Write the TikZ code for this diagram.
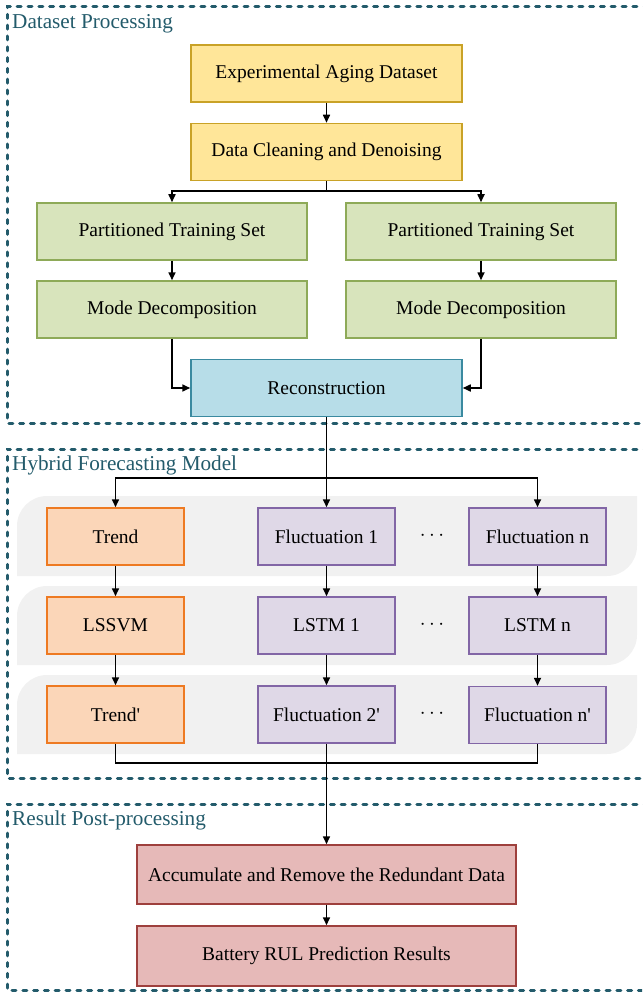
\documentclass[tikz,border=0pt]{standalone}
\usepackage{fontspec}
\setmainfont{Liberation Serif}
\usetikzlibrary{arrows.meta}
\definecolor{frameteal}{HTML}{235B6B}
\definecolor{labelteal}{HTML}{235B6B}
\definecolor{yfill}{HTML}{FFE699}
\definecolor{ydraw}{HTML}{C9A227}
\definecolor{gfill}{HTML}{D8E4BC}
\definecolor{gdraw}{HTML}{8EAA58}
\definecolor{bfill}{HTML}{B7DDE8}
\definecolor{bdraw}{HTML}{3A8AA0}
\definecolor{ofill}{HTML}{FBD6B8}
\definecolor{odraw}{HTML}{EE7A22}
\definecolor{pfill}{HTML}{DFD8E7}
\definecolor{pdraw}{HTML}{8266A6}
\definecolor{rfill}{HTML}{E6B9B8}
\definecolor{rdraw}{HTML}{9E403D}
\definecolor{bandgray}{HTML}{F1F1F1}
\tikzset{
  box/.style={draw, line width=1.5pt, minimum height=57pt, inner sep=0pt, font=\fontsize{19.5}{21}\selectfont, text=black},
  ybox/.style={box, fill=yfill, draw=ydraw, minimum width=271pt},
  gbox/.style={box, fill=gfill, draw=gdraw, minimum width=270pt},
  bbox/.style={box, fill=bfill, draw=bdraw, minimum width=271pt},
  obox/.style={box, fill=ofill, draw=odraw, minimum width=137pt},
  pbox/.style={box, fill=pfill, draw=pdraw, minimum width=137pt},
  rbox/.style={box, fill=rfill, draw=rdraw, minimum width=379pt, minimum height=59pt},
  conn/.style={line width=1.6pt, draw=black},
  arr/.style={conn, -{Triangle[length=8pt,width=7pt]}},
  frame/.style={draw=frameteal, line width=3pt, line cap=round, dash pattern=on 4pt off 6.8pt},
  grouplabel/.style={anchor=west, inner sep=0pt, text=labelteal, font=\fontsize{21.2}{23}\selectfont},
  dotsnode/.style={inner sep=0pt, font=\fontsize{20}{21}\selectfont},
  band/.style={fill=bandgray, draw=none}
}
\begin{document}
\begin{tikzpicture}[x=1pt,y=-1pt]
\useasboundingbox (0,0) rectangle (642,992);
\clip (0,0) rectangle (642,992);
% gray bands
\foreach \t/\b in {496/576, 586/665, 675/754}{
  \fill[band] (17,\b) -- (17,\t+30) arc[start angle=180,end angle=90,radius=30pt]
     -- (637,\t) -- (637,\b-30) arc[start angle=0,end angle=-90,radius=30pt] -- cycle;
}
% frames
\draw[frame] (680,7) -- (7,7) -- (7,423) -- (680,423);
\draw[frame] (680,449) -- (7,449) -- (7,778) -- (680,778);
\draw[frame] (680,804) -- (7,804) -- (7,990) -- (680,990);
% group labels
\node[grouplabel] (lab1) at (12,23.5) {Dataset Processing};
\node[grouplabel] (lab2) at (12,465.5) {Hybrid Forecasting Model};
\node[grouplabel] (lab3) at (12,820.5) {Result Post-processing};
% dataset processing
\node[ybox] (exp) at (326.5,73.5) {Experimental Aging Dataset};
\node[ybox] (clean) at (326.5,152) {Data Cleaning and Denoising};
\node[gbox] (ptl) at (172,231.5) {Partitioned Training Set};
\node[gbox] (ptr) at (481,231.5) {Partitioned Training Set};
\node[gbox] (mdl) at (172,309.5) {Mode Decomposition};
\node[gbox] (mdr) at (481,309.5) {Mode Decomposition};
\node[bbox] (rec) at (326.5,388) {Reconstruction};
% hybrid
\node[obox] (trend) at (115.5,536.5) {Trend};
\node[pbox] (f1) at (326.5,536.5) {Fluctuation 1};
\node[pbox] (fn) at (537.5,536.5) {Fluctuation n};
\node[obox] (lssvm) at (115.5,625.5) {LSSVM};
\node[pbox] (lstm1) at (326.5,625.5) {LSTM 1};
\node[pbox] (lstmn) at (537.5,625.5) {LSTM n};
\node[obox] (trendp) at (115.5,714.5) {Trend\textquotesingle};
\node[pbox] (f2p) at (326.5,714.5) {Fluctuation 2\textquotesingle};
\node[pbox] (fnp) at (537.5,715) {Fluctuation n\textquotesingle};
\node[dotsnode] (d1) at (432,536) {$\cdots$};
\node[dotsnode] (d2) at (432,625) {$\cdots$};
\node[dotsnode] (d3) at (432,714) {$\cdots$};
% result
\node[rbox] (acc) at (326.5,874.5) {Accumulate and Remove the Redundant Data};
\node[rbox, minimum height=60pt] (rul) at (326.5,956) {Battery RUL Prediction Results};
% connectors
\draw[arr] (exp) -- (clean);
\coordinate (s1) at (326.5,191);
\draw[conn] (clean.south) -- (s1);
\draw[arr] (s1) -| (ptl.north);
\draw[arr] (s1) -| (ptr.north);
\draw[arr] (ptl) -- (mdl);
\draw[arr] (ptr) -- (mdr);
\draw[arr] (mdl.south) |- (rec.west);
\draw[arr] (mdr.south) |- (rec.east);
\coordinate (s2) at (326.5,478);
\draw[conn] (rec.south) -- (s2);
\draw[arr] (s2) -| (trend.north);
\draw[arr] (s2) -- (f1.north);
\draw[arr] (s2) -| (fn.north);
\draw[arr] (trend) -- (lssvm);
\draw[arr] (f1) -- (lstm1);
\draw[arr] (fn) -- (lstmn);
\draw[arr] (lssvm) -- (trendp);
\draw[arr] (lstm1) -- (f2p);
\draw[arr] (lstmn.south) -- (fnp.north);
\coordinate (s3) at (115.5,763);
\draw[conn] (trendp.south) -- (s3) -| (fnp.south);
\draw[arr] (f2p.south) -- (acc.north);
\draw[arr] (acc) -- (rul);
\end{tikzpicture}
\end{document}
